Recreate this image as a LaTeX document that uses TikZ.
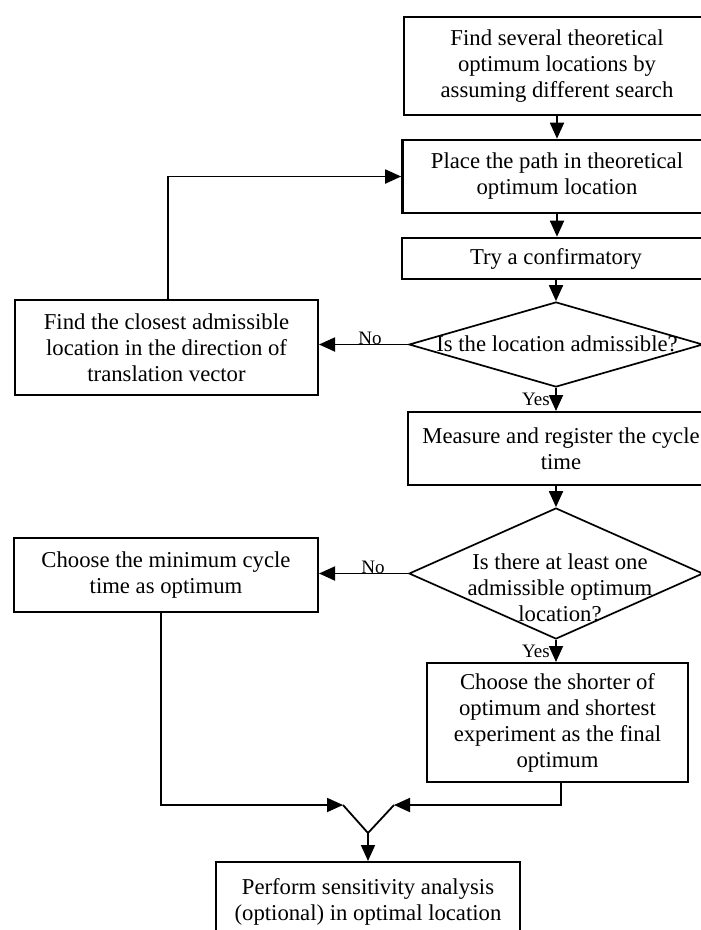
\documentclass[tikz,border=0pt]{standalone}
\usepackage{fontspec}
\setmainfont{Liberation Serif}
\usetikzlibrary{arrows.meta,shapes.geometric}
\begin{document}
\begin{tikzpicture}[x=1pt,y=-1pt,
  box/.style={draw, line width=2pt, align=center, inner sep=0pt, font=\fontsize{22.7pt}{26pt}\selectfont},
  boxthick/.style={box, line width=2.6pt},
  dia/.style={draw, shape=diamond, line width=1.7pt, inner sep=0pt},
  txt/.style={align=center, inner sep=0pt, font=\fontsize{22.7pt}{26pt}\selectfont},
  lbl/.style={inner sep=0pt, font=\fontsize{19pt}{22pt}\selectfont},
  arr/.style={line width=1.8pt, -{Triangle[length=16pt,width=14pt]}},
  ln/.style={line width=1.8pt}]
\useasboundingbox (0,0) rectangle (701,930);
\fill[white] (0,0) rectangle (701,930);
\clip (0,0) rectangle (701,930);

% main column
\node[boxthick, minimum width=306pt, minimum height=98pt] (b1) at (557,66)
  {Find several theoretical\\optimum locations by\\assuming different search};
\node[boxthick, minimum width=309pt, minimum height=73pt] (b2) at (557,176.5)
  {Place the path in theoretical\\optimum location};
\node[boxthick, minimum width=308pt, minimum height=41pt] (b3) at (556,258.5)
  {Try a confirmatory};
\node[dia, minimum width=294pt, minimum height=85pt] (d1) at (556,344.5) {};
\node[txt] (t1) at (557,344) {Is the location admissible?};
\node[box, minimum width=306pt, minimum height=73pt] (b4) at (561,448.5)
  {Measure and register the cycle\\time};
\node[dia, minimum width=294pt, minimum height=131pt] (d2) at (556,573.5) {};
\node[txt] (t2) at (560,588) {Is there at least one\\admissible optimum\\location?};
\node[box, minimum width=261pt, minimum height=119pt] (b5) at (557.5,722.5)
  {Choose the shorter of\\optimum and shortest\\experiment as the final\\optimum};

% left column
\node[box, minimum width=303pt, minimum height=95pt] (l1) at (166.5,347.5)
  {Find the closest admissible\\location in the direction of\\translation vector};
\node[box, minimum width=304pt, minimum height=74pt] (l2) at (166,575)
  {Choose the minimum cycle\\time as optimum};

% bottom
\node[box, minimum width=304pt, minimum height=80pt] (b6) at (368,902)
  {Perform sensitivity analysis\\(optional) in optimal location};

% merge
\coordinate (vl) at (343,805);
\coordinate (vr) at (394,805);
\coordinate (vb) at (368,833);

% connectors
\draw[arr] (b1.south) -- (b1.south |- b2.north);
\draw[arr] (b2.south) -- (b2.south |- b3.north);
\draw[arr] (d1.north |- b3.south) -- (d1.north);
\draw[arr] (d1.west) -- (d1.west -| l1.east);
\draw[arr] ([xshift=1.5pt]l1.north) |- (b2.west);
\draw[arr] (d1.south) -- (d1.south |- b4.north);
\draw[arr] (d2.north |- b4.south) -- (d2.north);
\draw[arr] (d2.west) -- (d2.west -| l2.east);
\draw[arr] (d2.south) -- (d2.south |- b5.north);
\draw[arr] ([xshift=-5pt]l2.south) |- (vl);
\draw[arr] ([xshift=3.5pt]b5.south) |- (vr);
\draw[ln] (vl) -- (vb) -- (vr);
\draw[arr] (vb) -- (vb |- b6.north);

% labels
\node[lbl, anchor=base] (no1) at (370,344) {No};
\node[lbl, anchor=base] (no2) at (373,573) {No};
\node[lbl, anchor=base] (yes1) at (536,405) {Yes};
\node[lbl, anchor=base] (yes2) at (536,657) {Yes};
\end{tikzpicture}
\end{document}
